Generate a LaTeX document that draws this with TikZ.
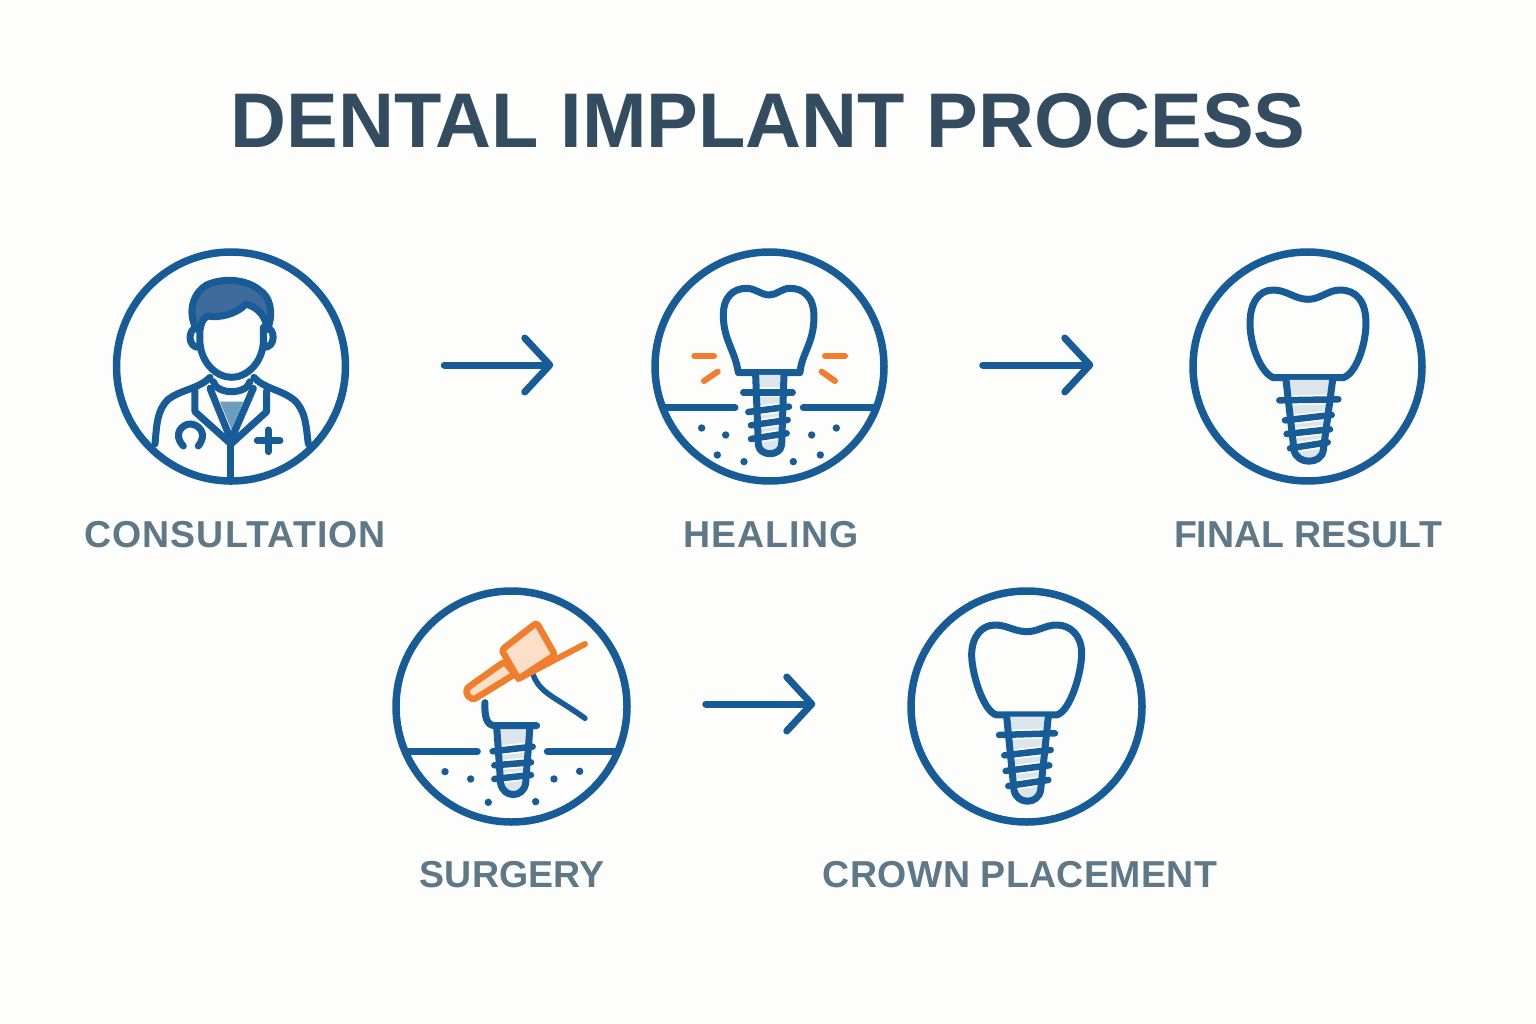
\documentclass[tikz,border=0pt]{standalone}
\usepackage{fontspec}
\setmainfont{Liberation Sans}
\usetikzlibrary{arrows.meta,positioning}
\definecolor{pageback}{HTML}{FDFDFC}
\definecolor{iconblue}{HTML}{175C96}
\definecolor{hairblue}{HTML}{3F6B9C}
\definecolor{tieblue}{HTML}{6E9DBF}
\definecolor{palefill}{HTML}{DAE5EC}
\definecolor{drillorange}{HTML}{F07E2C}
\definecolor{drillfill}{HTML}{FCDFC8}
\definecolor{titlecolor}{HTML}{334C60}
\definecolor{labelcolor}{HTML}{5F7888}
\tikzset{
  ring/.style={circle,draw=iconblue,line width=7.5pt,inner sep=0pt,minimum size=#1},
  flowarrow/.style={draw=iconblue,line width=7pt,line cap=round,-{Straight Barb[length=25pt,width=54pt,round]}},
  icon/.style={draw=iconblue,line width=7pt,line cap=round,line join=round},
  thread/.style={icon,line width=6.5pt,preaction={draw=pageback,line width=10pt}},
  spark/.style={draw=drillorange,line width=6pt,line cap=round},
  drill/.style={draw=drillorange,line width=6.5pt,line cap=round,line join=round,fill=drillfill,rounded corners=3pt},
  steplabel/.style={anchor=base,text=labelcolor,font=\fontsize{37.5}{37.5}\selectfont\bfseries},
  iconbox/.style={x=.3333pt,y=-.3333pt},
}
\begin{document}
\begin{tikzpicture}[x=1pt,y=-1pt]
\fill[pageback] (0,0) rectangle (1536,1024);
\useasboundingbox (0,0) rectangle (1536,1024);

\node[anchor=base,text=titlecolor,font=\fontsize{77.5}{77.5}\selectfont\bfseries] (title) at (768,148) {DENTAL IMPLANT PROCESS};

\node[ring=229pt] (consult) at (231,366.5) {};
\node[ring=229pt] (healing) at (769.5,366.5) {};
\node[ring=229pt] (final) at (1307.5,366.5) {};
\node[ring=231pt] (surgery) at (511.5,706.5) {};
\node[ring=231pt] (crown) at (1026.5,706.5) {};

\node[steplabel] (consultlabel) at (235,547) {\addfontfeatures{LetterSpace=3}CONSULTATION};
\node[steplabel] (healinglabel) at (771,547) {\addfontfeatures{LetterSpace=2.5}HEALING};
\node[steplabel] (finallabel) at (1308,547) {FINAL RESULT};
\node[steplabel] (surgerylabel) at (512,887) {SURGERY};
\node[steplabel] (crownlabel) at (1020,887) {\addfontfeatures{LetterSpace=1}CROWN PLACEMENT};

\draw[flowarrow,shorten <=95pt,shorten >=98pt] ([yshift=1.5pt]consult.east) -- ([yshift=1.5pt]healing.west);
\draw[flowarrow,shorten <=95pt,shorten >=96pt] ([yshift=1.5pt]healing.east) -- ([yshift=1.5pt]final.west);
\draw[flowarrow,shorten <=75pt,shorten >=92pt] ([yshift=2.5pt]surgery.east) -- ([yshift=2.5pt]crown.west);

\begin{scope}[shift={(100,240)},iconbox]
\filldraw[icon,fill=hairblue] (290,268) .. controls (265,225) and (272,165) .. (320,135) .. controls (370,112) and (440,118) .. (478,150) .. controls (510,170) and (522,215) .. (503,268) .. controls (495,230) and (480,205) .. (438,192) .. controls (410,222) and (360,235) .. (322,228) .. controls (305,240) and (305,250) .. (300,268) -- cycle;
\draw[icon] (300,262) -- (300,310) .. controls (305,370) and (350,412) .. (395,412) .. controls (440,412) and (485,370) .. (490,310) -- (490,262);
\draw[icon] (292,262) .. controls (262,265) and (262,325) .. (298,322);
\draw[icon] (498,262) .. controls (528,265) and (528,325) .. (490,322);
\draw[icon] (340,425) .. controls (350,465) and (440,465) .. (450,425);
\draw[icon] (165,612) .. controls (170,560) and (170,510) .. (205,478) .. controls (240,450) and (300,445) .. (330,412);
\draw[icon] (625,612) .. controls (618,560) and (618,510) .. (580,478) .. controls (545,450) and (490,445) .. (462,412);
\fill[tieblue] (360,485) -- (430,485) -- (395,570) -- cycle;
\draw[icon] (285,452) -- (285,515) -- (393,612) -- (500,515) -- (500,452);
\draw[icon] (330,445) -- (393,600) -- (460,445);
\draw[icon] (393,612) -- (393,725);
\draw[icon] (250,618) .. controls (215,580) and (250,552) .. (270,552) .. controls (295,552) and (325,580) .. (295,618);
\draw[icon] (505,570) -- (505,635);
\draw[icon] (472,602) -- (540,602);
\end{scope}

\begin{scope}[shift={(640,240)},iconbox]
\draw[icon] (295,398) -- (480,398) .. controls (485,340) and (522,310) .. (522,230) .. controls (522,170) and (490,145) .. (450,145) .. controls (425,145) and (410,165) .. (388,165) .. controls (365,165) and (345,145) .. (320,145) .. controls (280,145) and (250,170) .. (250,225) .. controls (250,300) and (285,330) .. (295,398) -- cycle;
\fill[palefill] (347,405) -- (355,615) .. controls (360,650) and (420,650) .. (425,615) -- (432,405);
\draw[thread] (310,457) -- (458,457);
\draw[thread] (325,516) -- (447,500);
\draw[thread] (333,556) -- (443,540);
\draw[thread] (333,597) -- (440,580);
\draw[icon] (347,405) -- (355,615) .. controls (360,650) and (420,650) .. (425,615) -- (432,405);
\draw[icon] (75,503) -- (285,503);
\draw[icon] (490,503) -- (700,503);
\foreach \x/\y in {185/564,257/585,232/645,312/665,460/665,541/645,515/585,589/564}
  \fill[iconblue] (\x,\y) circle (3.7pt);
\draw[spark] (163,347) -- (222,347);
\draw[spark] (192,423) -- (233,395);
\draw[spark] (555,347) -- (615,347);
\draw[spark] (545,395) -- (585,423);
\end{scope}

\begin{scope}[shift={(1180,240)},iconbox]
\draw[icon] (280,413) -- (490,413) .. controls (530,400) and (558,310) .. (558,250) .. controls (558,185) and (530,150) .. (480,150) .. controls (445,150) and (420,178) .. (385,178) .. controls (345,178) and (320,150) .. (280,150) .. controls (235,150) and (210,190) .. (210,250) .. controls (210,320) and (245,400) .. (280,413) -- cycle;
\fill[palefill] (318,420) -- (342,630) .. controls (350,675) and (425,675) .. (430,630) -- (458,420);
\draw[thread] (298,481) -- (475,478);
\draw[thread] (315,541) -- (455,525);
\draw[thread] (320,582) -- (450,568);
\draw[thread] (330,625) -- (443,607);
\draw[icon] (318,420) -- (342,630) .. controls (350,675) and (425,675) .. (430,630) -- (458,420);
\end{scope}

\begin{scope}[shift={(385,580)},iconbox]
\fill[palefill] (335,440) -- (347,610) .. controls (355,655) and (415,655) .. (422,610) -- (435,440);
\draw[thread] (323,514) -- (443,500);
\draw[thread] (328,556) -- (438,547);
\draw[thread] (328,597) -- (438,585);
\draw[icon] (335,440) -- (347,610) .. controls (355,655) and (415,655) .. (422,610) -- (435,440);
\draw[icon] (300,368) .. controls (298,410) and (305,437) .. (330,437) -- (455,437);
\draw[icon] (70,514) -- (277,514);
\draw[icon] (487,514) -- (695,514);
\foreach \x/\y in {180/575,257/597,310/667,452/665,507/597,584/574}
  \fill[iconblue] (\x,\y) circle (3.7pt);
\draw[icon,line width=5.5pt] (445,285) .. controls (465,340) and (510,350) .. (600,415);
\draw[spark] (400,297) -- (600,192);
\filldraw[drill] (358,245) -- (255,318) .. controls (235,335) and (255,365) .. (280,350) -- (390,282) -- cycle;
\filldraw[drill] (350,210) -- (455,128) -- (510,225) -- (400,297) -- cycle;
\end{scope}

\begin{scope}[shift={(900,580)},iconbox]
\draw[icon] (290,405) -- (470,405) .. controls (510,395) and (545,280) .. (545,220) .. controls (545,165) and (510,135) .. (470,135) .. controls (435,135) and (415,155) .. (380,155) .. controls (345,155) and (320,135) .. (285,135) .. controls (245,135) and (215,170) .. (215,225) .. controls (215,280) and (250,395) .. (290,405) -- cycle;
\fill[palefill] (320,410) -- (342,630) .. controls (350,675) and (415,675) .. (422,630) -- (445,410);
\draw[thread] (297,465) -- (465,460);
\draw[thread] (313,526) -- (452,510);
\draw[thread] (317,573) -- (448,556);
\draw[thread] (325,618) -- (445,600);
\draw[icon] (320,410) -- (342,630) .. controls (350,675) and (415,675) .. (422,630) -- (445,410);
\end{scope}
\end{tikzpicture}
\end{document}
